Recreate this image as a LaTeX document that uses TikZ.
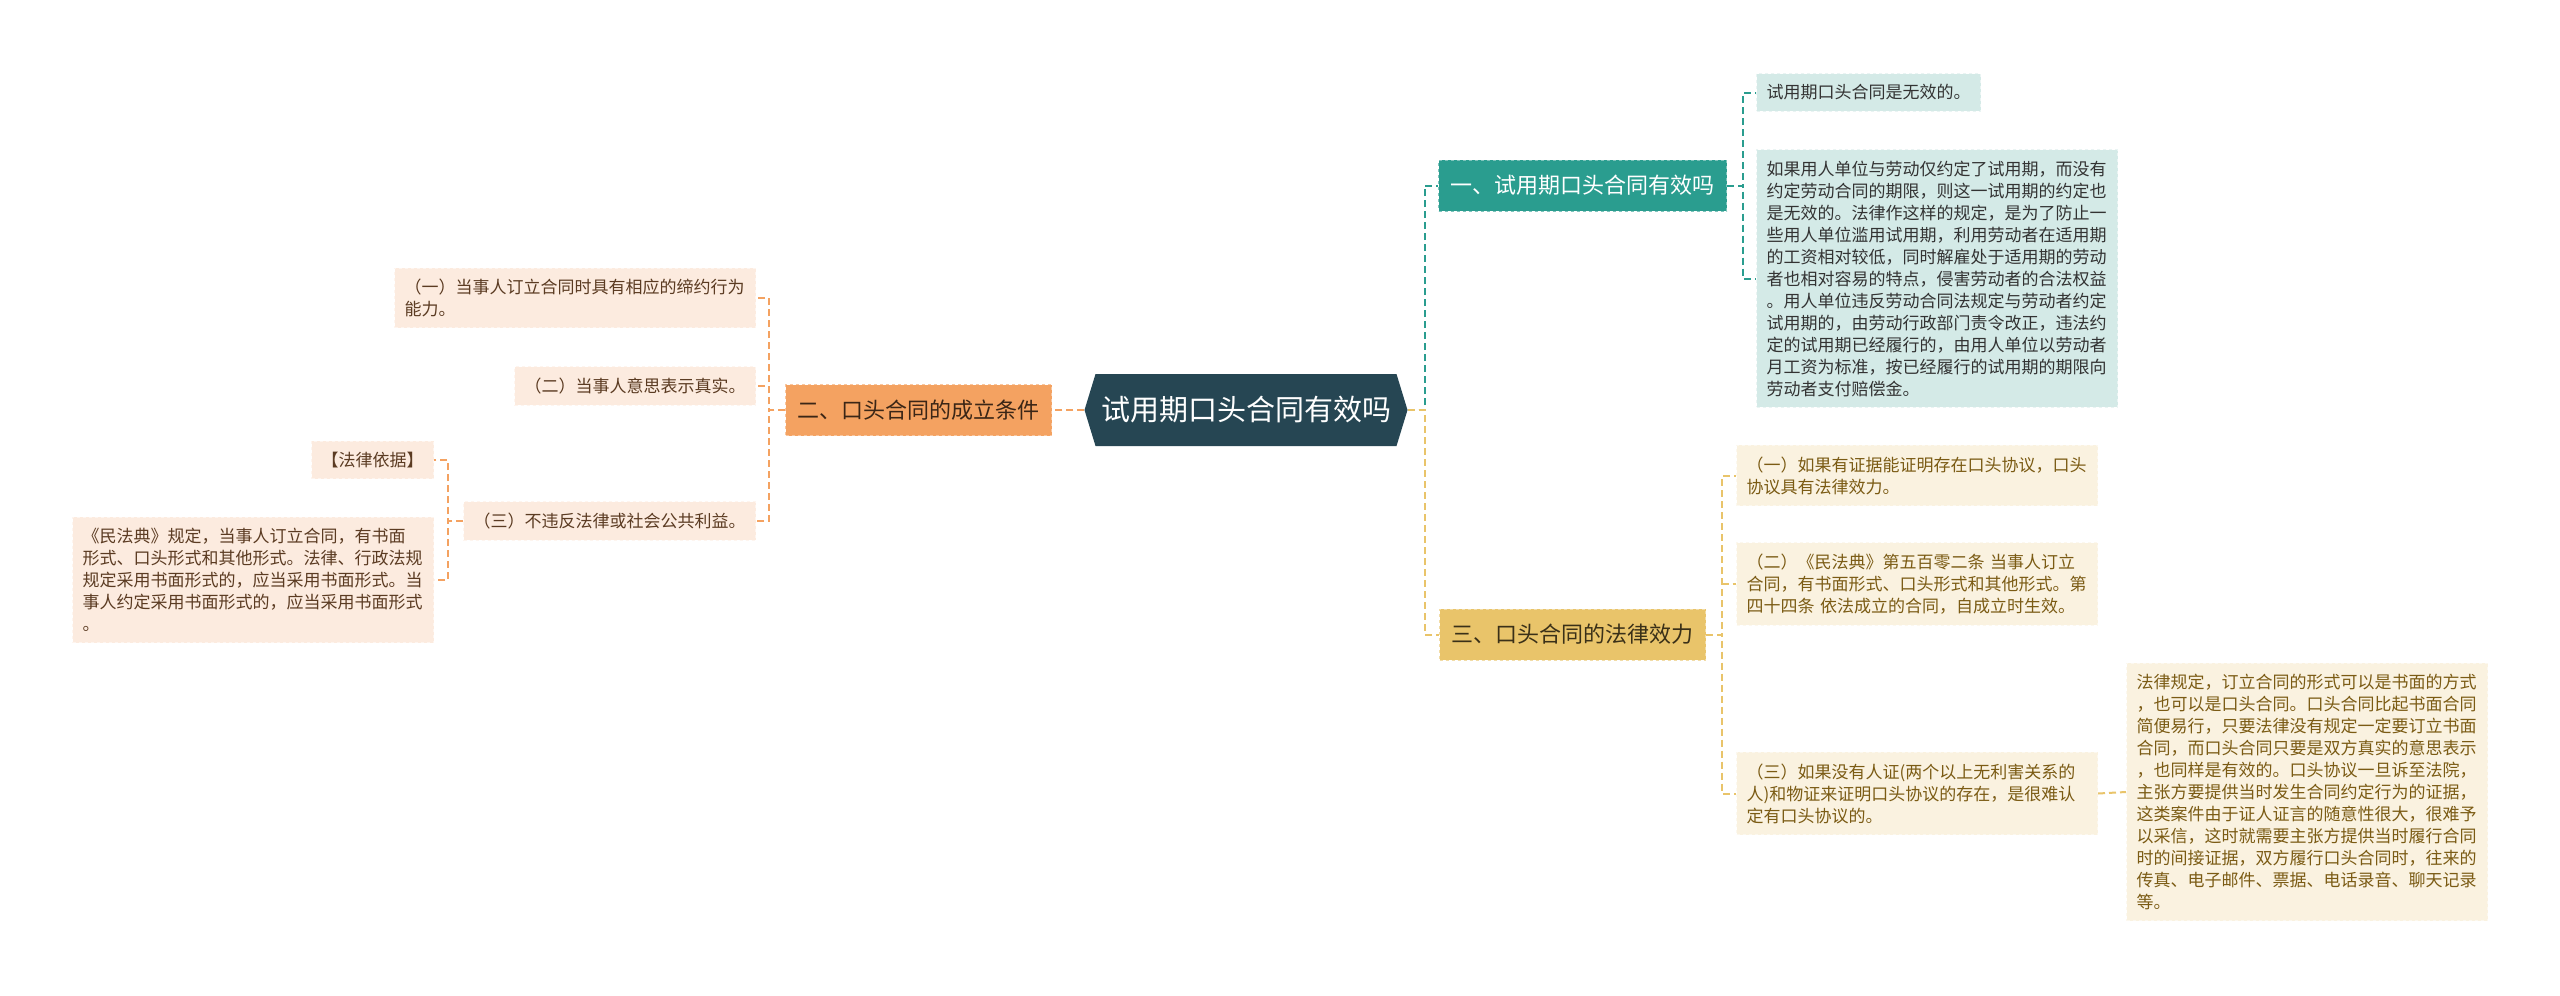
\documentclass[tikz,border=0pt]{standalone}
\usepackage{fontspec}
\setmainfont{Noto Sans CJK SC}
\usetikzlibrary{shapes.symbols}

\definecolor{rootcol}{HTML}{264653}
\definecolor{tealcol}{HTML}{2A9D8F}
\definecolor{orangecol}{HTML}{F4A261}
\definecolor{goldcol}{HTML}{E9C46A}
\definecolor{tealleaf}{HTML}{D4EAE7}
\definecolor{orangeleaf}{HTML}{FCEBDF}
\definecolor{goldleaf}{HTML}{FAF2E0}
\definecolor{tealtext}{HTML}{333333}
\definecolor{orangetext}{HTML}{5B3B22}
\definecolor{goldtext}{HTML}{7B5B14}
\definecolor{darkbrown}{HTML}{3B2616}
\definecolor{darkolive}{HTML}{3A3018}

\begin{document}
\begin{tikzpicture}[x=1pt, y=-1pt,
        rootnode/.style={signal, signal to=east and west, signal pointer angle=146, fill=rootcol, text=white, font=\fontsize{29}{34}\selectfont, minimum width=323pt, minimum height=72pt, inner xsep=4pt},
        branch/.style={rectangle, minimum height=51pt, inner xsep=12pt, font=\fontsize{22}{26}\selectfont, dashed, line width=1pt},
        tealbranch/.style={branch, fill=tealcol, draw=tealcol!60!white, text=white},
        orangebranch/.style={branch, fill=orangecol, draw=orangecol!60!white, text=darkbrown},
        goldbranch/.style={branch, fill=goldcol, draw=goldcol!60!white, text=darkolive},
        leaf/.style={rectangle, align=left, inner xsep=10pt, inner ysep=11pt, font=\fontsize{17}{22}\selectfont, dashed, line width=1pt},
        widetext/.style={text width=341pt},
        tealleafbox/.style={leaf, fill=tealleaf, draw=tealleaf!50!white, text=tealtext},
        orangeleafbox/.style={leaf, fill=orangeleaf, draw=orangeleaf!50!white, text=orangetext},
        goldleafbox/.style={leaf, fill=goldleaf, draw=goldleaf!50!white, text=goldtext},
        link/.style={line width=2pt, dash pattern=on 7pt off 4pt},
    ]
                        \fill[white] (0,0) rectangle (2560,996);
                        \useasboundingbox (0,0) rectangle (2560,996);

                        \node (root) at (1246,410) [rootnode] {试用期口头合同有效吗};

                        \node (valid) at (1438,185.5) [tealbranch, anchor=west] {一、试用期口头合同有效吗};
                        \node (formed) at (1052,410) [orangebranch, anchor=east] {二、口头合同的成立条件};
                        \node (effect) at (1439,634.5) [goldbranch, anchor=west] {三、口头合同的法律效力};

                        \node (invalid) at (1756,92.5) [tealleafbox, anchor=west] {试用期口头合同是无效的。};
                        \node (trial) at (1756,278.5) [tealleafbox, widetext, anchor=west] {如果用人单位与劳动仅约定了试用期，而没有\\约定劳动合同的期限，则这一试用期的约定也\\是无效的。法律作这样的规定，是为了防止一\\些用人单位滥用试用期，利用劳动者在适用期\\的工资相对较低，同时解雇处于适用期的劳动\\者也相对容易的特点，侵害劳动者的合法权益\\。用人单位违反劳动合同法规定与劳动者约定\\试用期的，由劳动行政部门责令改正，违法约\\定的试用期已经履行的，由用人单位以劳动者\\月工资为标准，按已经履行的试用期的期限向\\劳动者支付赔偿金。};

                        \node (capacity) at (756,298) [orangeleafbox, widetext, anchor=east] {（一）当事人订立合同时具有相应的缔约行为\\能力。};
                        \node (intent) at (756,386) [orangeleafbox, anchor=east] {（二）当事人意思表示真实。};
                        \node (lawful) at (756,521) [orangeleafbox, anchor=east] {（三）不违反法律或社会公共利益。};
                        \node (basis) at (434,460) [orangeleafbox, anchor=east] {【法律依据】};
                        \node (civilcode) at (434,580) [orangeleafbox, widetext, anchor=east] {《民法典》规定，当事人订立合同，有书面\\形式、口头形式和其他形式。法律、行政法规\\规定采用书面形式的，应当采用书面形式。当\\事人约定采用书面形式的，应当采用书面形式\\。};

                        \node (proof) at (1736,475.5) [goldleafbox, widetext, anchor=west] {（一）如果有证据能证明存在口头协议，口头\\协议具有法律效力。};
                        \node (article) at (1736,584) [goldleafbox, widetext, anchor=west] {（二）《民法典》第五百零二条 当事人订立\\合同，有书面形式、口头形式和其他形式。第\\四十四条 依法成立的合同，自成立时生效。};
                        \node (nowitness) at (1736,793.5) [goldleafbox, widetext, anchor=west] {（三）如果没有人证(两个以上无利害关系的\\人)和物证来证明口头协议的存在，是很难认\\定有口头协议的。};
                        \node (explain) at (2126,792) [goldleafbox, widetext, anchor=west] {法律规定，订立合同的形式可以是书面的方式\\，也可以是口头合同。口头合同比起书面合同\\简便易行，只要法律没有规定一定要订立书面\\合同，而口头合同只要是双方真实的意思表示\\，也同样是有效的。口头协议一旦诉至法院，\\主张方要提供当时发生合同约定行为的证据，\\这类案件由于证人证言的随意性很大，很难予\\以采信，这时就需要主张方提供当时履行合同\\时的间接证据，双方履行口头合同时，往来的\\传真、电子邮件、票据、电话录音、聊天记录\\等。};

                        \draw[link, tealcol] (root.east) -- ++(17,0) |- (valid.west);
                        \draw[link, goldcol] (root.east) -- ++(17,0) |- (effect.west);
                        \draw[link, orangecol] (root.west) -- (formed.east);

                        \draw[link, tealcol] (valid.east) -- ++(16,0) |- (invalid.west);
                        \draw[link, tealcol] (valid.east) -- ++(16,0) |- (trial.west);

                        \draw[link, orangecol] (formed.west) -- ++(-16,0) |- (capacity.east);
                        \draw[link, orangecol] (formed.west) -- ++(-16,0) |- (intent.east);
                        \draw[link, orangecol] (formed.west) -- ++(-16,0) |- (lawful.east);
                        \draw[link, orangecol] (lawful.west) -- ++(-15,0) |- (basis.east);
                        \draw[link, orangecol] (lawful.west) -- ++(-15,0) |- (civilcode.east);

                        \draw[link, goldcol] (effect.east) -- ++(16,0) |- (proof.west);
                        \draw[link, goldcol] (effect.east) -- ++(16,0) |- (article.west);
                        \draw[link, goldcol] (effect.east) -- ++(16,0) |- (nowitness.west);
                        \draw[link, goldcol] (nowitness.east) -- (explain.west);
\end{tikzpicture}
\end{document}
